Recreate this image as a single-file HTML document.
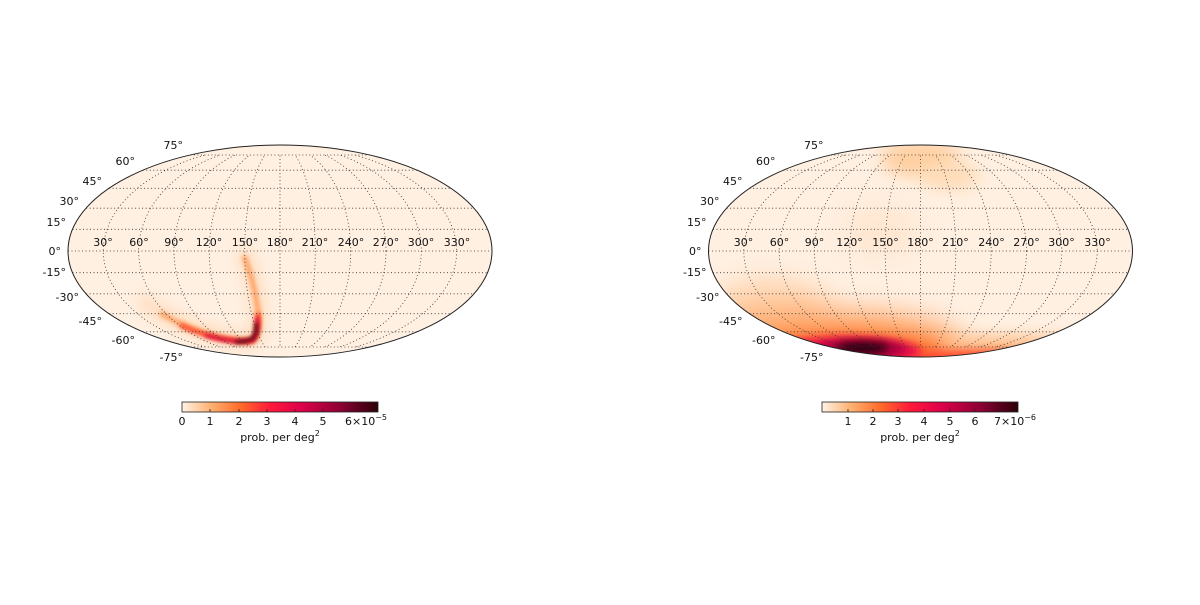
<!DOCTYPE html>
<html><head><meta charset="utf-8"><style>
body{margin:0;background:#fff;}
svg text{font-family:"DejaVu Sans","Liberation Sans",sans-serif;font-size:11px;fill:#111;}
</style></head><body>
<svg width="1200" height="600" xmlns="http://www.w3.org/2000/svg">
<defs>
<clipPath id="ell"><ellipse cx="0" cy="0" rx="212" ry="106"/></clipPath>
<clipPath id="gridc"><rect x="-220" y="-96" width="440" height="192"/></clipPath>
<filter id="b2" x="-50%" y="-50%" width="200%" height="200%"><feGaussianBlur stdDeviation="2"/></filter>
<filter id="b4" x="-50%" y="-50%" width="200%" height="200%"><feGaussianBlur stdDeviation="4"/></filter>
<filter id="b8" x="-50%" y="-50%" width="200%" height="200%"><feGaussianBlur stdDeviation="8"/></filter>
<filter id="b14" x="-50%" y="-50%" width="200%" height="200%"><feGaussianBlur stdDeviation="14"/></filter>
<linearGradient id="cm" x1="0" x2="1" y1="0" y2="0">
<stop offset="0" stop-color="#fff3e6"/>
<stop offset="0.15" stop-color="#ffb070"/>
<stop offset="0.3" stop-color="#ff6a2a"/>
<stop offset="0.45" stop-color="#ff1a3a"/>
<stop offset="0.6" stop-color="#e0004a"/>
<stop offset="0.8" stop-color="#900035"/>
<stop offset="1" stop-color="#2a0008"/>
</linearGradient>
<g id="grid" fill="none" stroke="#333" stroke-width="0.8" stroke-dasharray="1,2.5">
<g clip-path="url(#gridc)">
<ellipse rx="176.7" ry="106"/><ellipse rx="141.3" ry="106"/><ellipse rx="106" ry="106"/>
<ellipse rx="70.7" ry="106"/><ellipse rx="35.3" ry="106"/><line x1="0" y1="-106" x2="0" y2="106"/>
</g>
<line x1="-212" x2="212" y1="0" y2="0"/>
<line x1="-207.5" x2="207.5" y1="-21.7" y2="-21.7"/><line x1="-207.5" x2="207.5" y1="21.7" y2="21.7"/>
<line x1="-193.9" x2="193.9" y1="-42.8" y2="-42.8"/><line x1="-193.9" x2="193.9" y1="42.8" y2="42.8"/>
<line x1="-170.9" x2="170.9" y1="-62.7" y2="-62.7"/><line x1="-170.9" x2="170.9" y1="62.7" y2="62.7"/>
<line x1="-137.2" x2="137.2" y1="-80.8" y2="-80.8"/><line x1="-137.2" x2="137.2" y1="80.8" y2="80.8"/>
<line x1="-89.6" x2="89.6" y1="-96" y2="-96"/><line x1="-89.6" x2="89.6" y1="96" y2="96"/>
</g>
<g id="labels">
<g text-anchor="middle" font-size="12">
<text x="-177" y="-5">30°</text><text x="-141" y="-5">60°</text><text x="-106" y="-5">90°</text>
<text x="-71" y="-5">120°</text><text x="-35" y="-5">150°</text><text x="0" y="-5">180°</text>
<text x="35" y="-5">210°</text><text x="71" y="-5">240°</text><text x="106" y="-5">270°</text>
<text x="141" y="-5">300°</text><text x="177" y="-5">330°</text>
</g>
<g text-anchor="end">
<text x="-97" y="-102">75°</text><text x="-145" y="-86">60°</text><text x="-178" y="-66">45°</text>
<text x="-201" y="-46">30°</text><text x="-214" y="-25">15°</text><text x="-219" y="4">0°</text>
<text x="-214" y="25">-15°</text><text x="-201" y="50">-30°</text><text x="-178" y="74">-45°</text>
<text x="-145" y="93">-60°</text><text x="-97" y="110">-75°</text>
</g>
</g>
</defs>

<!-- LEFT MAP -->
<g transform="translate(280,251)">
<ellipse rx="212" ry="106" fill="#fff0e2"/>
<g clip-path="url(#ell)">
<path d="M-140,48 Q-90,85 -30,90 Q-18,88 -22,55 Q-28,20 -38,-2" fill="none" stroke="#ffd0a8" stroke-width="10" filter="url(#b8)"/>
<path d="M-120,62 Q-75,88 -30,90 Q-20,86 -22,60 Q-26,30 -36,5" fill="none" stroke="#ffa060" stroke-width="5" filter="url(#b2)"/>
<path d="M-100,74 Q-60,92 -28,90 Q-20,85 -22,62" fill="none" stroke="#ff4020" stroke-width="4.5" filter="url(#b2)"/>
<path d="M-75,84 Q-45,93 -27,89 Q-22,82 -23,66" fill="none" stroke="#d00040" stroke-width="3.5" filter="url(#b2)"/>
<path d="M-45,91 Q-32,91 -26,86 Q-23,80 -24,72" fill="none" stroke="#400010" stroke-width="3" filter="url(#b2)"/>
</g>
<use href="#grid"/>
<ellipse rx="212" ry="106" fill="none" stroke="#222" stroke-width="1"/>
<use href="#labels"/>
</g>

<!-- RIGHT MAP -->
<g transform="translate(920.5,251)">
<ellipse rx="212" ry="106" fill="#fff0e2"/>
<g clip-path="url(#ell)">
<ellipse cx="0" cy="-92" rx="40" ry="18" fill="#ffcfa0" filter="url(#b8)"/>
<ellipse cx="30" cy="-75" rx="30" ry="14" fill="#ffdcb8" filter="url(#b8)"/>
<ellipse cx="-40" cy="-20" rx="40" ry="25" fill="#ffe6d0" filter="url(#b14)"/>
<ellipse cx="-150" cy="60" rx="60" ry="30" fill="#ffd0a8" filter="url(#b14)"/>
<ellipse cx="-90" cy="92" rx="130" ry="32" fill="#ffa060" filter="url(#b14)"/>
<ellipse cx="70" cy="100" rx="150" ry="14" fill="#ffb880" filter="url(#b8)"/>
<ellipse cx="-75" cy="100" rx="100" ry="18" fill="#ff6a28" filter="url(#b8)"/>
<ellipse cx="60" cy="106" rx="130" ry="7" fill="#ff5030" filter="url(#b4)"/>
<ellipse cx="-75" cy="100" rx="75" ry="14" fill="#e8104a" filter="url(#b4)"/>
<ellipse cx="-60" cy="98" rx="45" ry="10" fill="#b00040" filter="url(#b4)"/>
<ellipse cx="-58" cy="97" rx="26" ry="6" fill="#2a0008" filter="url(#b4)"/>
</g>
<use href="#grid"/>
<ellipse rx="212" ry="106" fill="none" stroke="#222" stroke-width="1"/>
<use href="#labels"/>
</g>

<!-- COLORBARS -->
<rect x="182" y="402" width="196" height="10" fill="url(#cm)" stroke="#222" stroke-width="0.8"/>
<g stroke="#222" stroke-width="0.8">
<line x1="210" x2="210" y1="409" y2="412"/><line x1="239" x2="239" y1="409" y2="412"/><line x1="267" x2="267" y1="409" y2="412"/>
<line x1="295" x2="295" y1="409" y2="412"/><line x1="323" x2="323" y1="409" y2="412"/><line x1="352" x2="352" y1="409" y2="412"/>
</g>
<g text-anchor="middle">
<text x="182" y="425">0</text><text x="210" y="425">1</text><text x="239" y="425">2</text><text x="267" y="425">3</text>
<text x="295" y="425">4</text><text x="323" y="425">5</text><text x="366" y="425">6×10<tspan dy="-5" font-size="8">−5</tspan></text>
<text x="280" y="441">prob. per deg<tspan dy="-5" font-size="8">2</tspan></text>
</g>
<rect x="822" y="402" width="196" height="10" fill="url(#cm)" stroke="#222" stroke-width="0.8"/>
<g stroke="#222" stroke-width="0.8">
<line x1="848" x2="848" y1="409" y2="412"/><line x1="873" x2="873" y1="409" y2="412"/><line x1="898" x2="898" y1="409" y2="412"/>
<line x1="924" x2="924" y1="409" y2="412"/><line x1="950" x2="950" y1="409" y2="412"/><line x1="975" x2="975" y1="409" y2="412"/>
<line x1="1001" x2="1001" y1="409" y2="412"/>
</g>
<g text-anchor="middle">
<text x="848" y="425">1</text><text x="873" y="425">2</text><text x="898" y="425">3</text>
<text x="924" y="425">4</text><text x="950" y="425">5</text><text x="975" y="425">6</text>
<text x="1015" y="425">7×10<tspan dy="-5" font-size="8">−6</tspan></text>
<text x="920" y="441">prob. per deg<tspan dy="-5" font-size="8">2</tspan></text>
</g>
</svg>
</body></html>
